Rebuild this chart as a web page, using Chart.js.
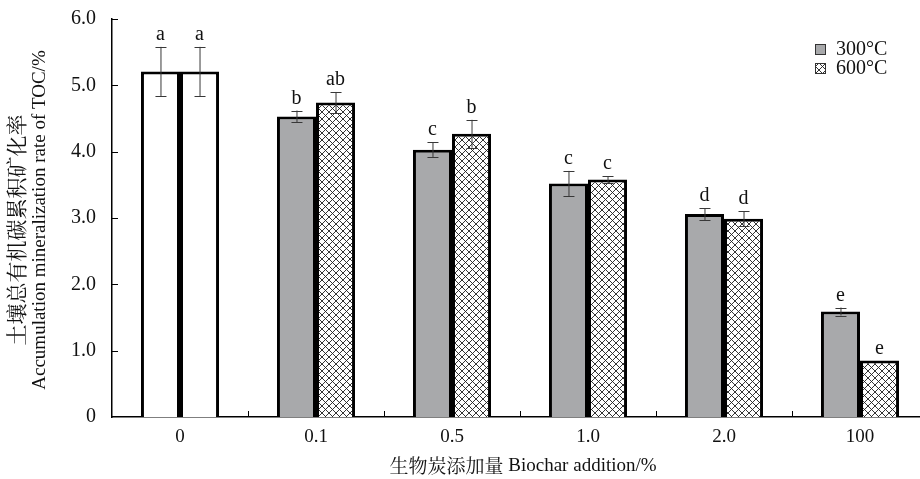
<!DOCTYPE html>
<html>
<head>
<meta charset="utf-8">
<script src="https://cdn.jsdelivr.net/npm/chart.js@4/dist/chart.umd.min.js"></script>
<style>
  html, body { margin: 0; padding: 0; background: #fff; overflow: hidden; }
  #wrap { width: 940px; height: 479px; }
</style>
</head>
<body>
<div id="wrap"><canvas id="c"></canvas></div>
<script>
// Biochar addition levels (%)
const categories = ['0', '0.1', '0.5', '1.0', '2.0', '100'];
// Cumulative TOC mineralization rate (%)
const values300 = [5.21, 4.53, 4.03, 3.52, 3.06, 1.59];
const values600 = [5.21, 4.74, 4.27, 3.58, 2.99, 0.85];
// Standard errors
const errors300 = [0.37, 0.09, 0.11, 0.19, 0.09, 0.06];
const errors600 = [0.37, 0.16, 0.21, 0.05, 0.11, 0];
// Significance letters
const letters300 = ['a', 'b', 'c', 'c', 'd', 'e'];
const letters600 = ['a', 'ab', 'b', 'c', 'd', 'e'];
const seriesNames = ['300°C', '600°C'];
const yTicks = [0, 1, 2, 3, 4, 5, 6];

const SERIF = "'Liberation Serif', 'Times New Roman', 'Noto Serif CJK SC', 'Noto Sans CJK SC', serif";
const GRAY = '#a8a9ab';

// cross-hatch fill
function makeHatch() {
  const s = 7;
  const c = document.createElement('canvas');
  c.width = s; c.height = s;
  const g = c.getContext('2d');
  g.fillStyle = '#fff';
  g.fillRect(0, 0, s, s);
  g.strokeStyle = '#1e1e1e';
  g.lineWidth = 0.9;
  g.beginPath();
  g.moveTo(-1, -1); g.lineTo(s + 1, s + 1);
  g.moveTo(s + 1, -1); g.lineTo(-1, s + 1);
  g.stroke();
  return g.createPattern(c, 'repeat');
}
const hatch = makeHatch();

const fill300 = categories.map((c, i) => i === 0 ? '#ffffff' : GRAY);
const fill600 = categories.map((c, i) => i === 0 ? '#ffffff' : hatch);

// error bars + letters above the bars
const errorBars = {
  id: 'errorBars',
  afterDatasetsDraw(chart) {
    const { ctx, scales: { y } } = chart;
    chart.data.datasets.forEach((ds, di) => {
      const meta = chart.getDatasetMeta(di);
      meta.data.forEach((bar, i) => {
        const v = ds.data[i], e = ds.errors[i];
        const x = bar.x;
        let top = y.getPixelForValue(v);
        ctx.save();
        if (e > 0) {
          const hi = y.getPixelForValue(v + e), lo = y.getPixelForValue(v - e);
          ctx.strokeStyle = '#383838';
          ctx.lineWidth = 1;
          ctx.beginPath();
          ctx.moveTo(x + 0.5, hi); ctx.lineTo(x + 0.5, lo);
          ctx.moveTo(x - 5, Math.round(hi) + 0.5); ctx.lineTo(x + 6, Math.round(hi) + 0.5);
          ctx.moveTo(x - 5, Math.round(lo) + 0.5); ctx.lineTo(x + 6, Math.round(lo) + 0.5);
          ctx.stroke();
          top = hi;
        }
        ctx.fillStyle = '#111';
        ctx.font = '20px ' + SERIF;
        ctx.textAlign = 'center';
        ctx.textBaseline = 'alphabetic';
        ctx.fillText(ds.letters[i], x, top - 7);
        ctx.restore();
      });
    });
  }
};

// inward tick marks, legend and axis titles
const decorations = {
  id: 'decorations',
  afterDraw(chart) {
    const { ctx, chartArea: a, scales: { x, y } } = chart;
    ctx.save();
    ctx.strokeStyle = '#000';
    ctx.lineWidth = 1;
    ctx.beginPath();
    y.ticks.forEach(t => {
      if (t.value === 0) return;
      const py = Math.round(y.getPixelForValue(t.value)) + 0.5;
      ctx.moveTo(a.left, py); ctx.lineTo(a.left + 6, py);
    });
    for (let i = 0; i < categories.length - 1; i++) {
      const px = Math.round((x.getPixelForValue(i) + x.getPixelForValue(i + 1)) / 2) + 0.5;
      ctx.moveTo(px, a.bottom); ctx.lineTo(px, a.bottom - 6);
    }
    ctx.stroke();

    // legend
    const fills = [GRAY, hatch];
    const lx = a.right - 113;
    [49, 68].forEach((cy, k) => {
      ctx.fillStyle = fills[k];
      ctx.fillRect(lx, cy - 5, 10, 10);
      ctx.strokeStyle = '#333';
      ctx.lineWidth = 1;
      ctx.strokeRect(lx + 0.5, cy - 4.5, 10, 10);
      ctx.fillStyle = '#111';
      ctx.font = '20px ' + SERIF;
      ctx.textAlign = 'left';
      ctx.textBaseline = 'middle';
      ctx.fillText(seriesNames[k], lx + 21, cy + 1);
    });

    // y-axis title (two lines)
    ctx.fillStyle = '#111';
    ctx.textAlign = 'center';
    ctx.textBaseline = 'middle';
    ctx.save();
    ctx.translate(16, 230);
    ctx.rotate(-Math.PI / 2);
    ctx.font = "21px 'Noto Serif CJK SC', 'Noto Sans CJK SC', serif";
    ctx.fillText('土壤总有机碳累积矿化率', 0, 0);
    ctx.restore();
    ctx.save();
    ctx.translate(40, 220);
    ctx.rotate(-Math.PI / 2);
    ctx.font = '19px ' + SERIF;
    ctx.fillText('Accumulation mineralization rate of TOC/%', 0, 0);
    ctx.restore();

    // x-axis title
    const zh = '生物炭添加量 ', en = 'Biochar addition/%';
    ctx.font = "19px 'Noto Serif CJK SC', 'Noto Sans CJK SC', serif";
    const wz = ctx.measureText(zh).width;
    ctx.font = '19px ' + SERIF;
    const we = ctx.measureText(en).width;
    const sx = (a.left + a.right) / 2 + 3 - (wz + we) / 2;
    ctx.textAlign = 'left';
    ctx.font = "19px 'Noto Serif CJK SC', 'Noto Sans CJK SC', serif";
    ctx.fillText(zh, sx, 466);
    ctx.font = '19px ' + SERIF;
    ctx.fillText(en, sx + wz, 466);
    ctx.restore();
  }
};

new Chart(document.getElementById('c'), {
  type: 'bar',
  data: {
    labels: categories,
    datasets: [
      { label: seriesNames[0], data: values300, errors: errors300, letters: letters300,
        backgroundColor: fill300, borderColor: '#000', borderWidth: 3,
        barPercentage: 1, categoryPercentage: 0.574 },
      { label: seriesNames[1], data: values600, errors: errors600, letters: letters600,
        backgroundColor: fill600, borderColor: '#000', borderWidth: 3,
        barPercentage: 1, categoryPercentage: 0.574 }
    ]
  },
  options: {
    responsive: true,
    maintainAspectRatio: false,
    animation: false,
    layout: { padding: { left: 0, top: 19, right: 12, bottom: 0 } },
    plugins: { legend: { display: false }, tooltip: { enabled: false } },
    scales: {
      x: {
        grid: { display: false, drawTicks: false },
        border: { display: true, color: '#000', width: 1.5 },
        ticks: { color: '#111', font: { family: SERIF, size: 19 }, padding: 9 },
        afterFit(s) { s.height = 62; s.paddingLeft = 0; s.paddingRight = 0; }
      },
      y: {
        min: 0, max: 6,
        afterBuildTicks(s) { s.ticks = yTicks.map(v => ({ value: v })); },
        grid: { display: false, drawTicks: false },
        border: { display: true, color: '#000', width: 1.5 },
        ticks: {
          color: '#111', font: { family: SERIF, size: 20 }, padding: 16,
          callback: v => v === 0 ? '0' : v.toFixed(1)
        },
        afterFit(s) { s.width = 112; s.paddingTop = 0; s.paddingBottom = 0; }
      }
    }
  },
  plugins: [errorBars, decorations]
});
</script>
</body>
</html>
